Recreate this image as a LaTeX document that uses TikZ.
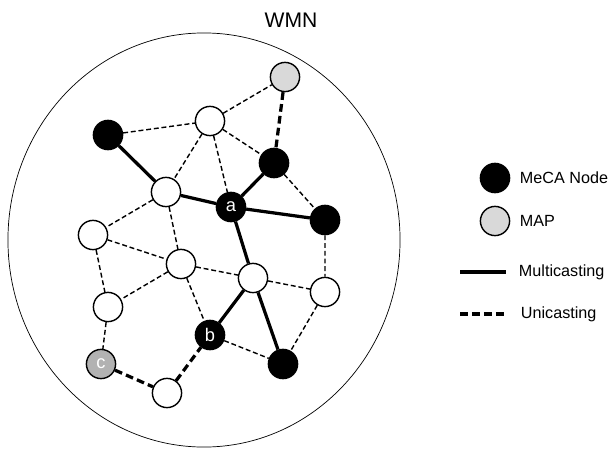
\documentclass[tikz,border=0pt]{standalone}
\usepackage{fontspec}
\setmainfont{Liberation Sans}

\begin{document}
\begin{tikzpicture}[x=0.025cm,y=-0.025cm,
    relay/.style={circle,draw,line width=1pt,fill=white,minimum size=0.73cm,
        inner sep=0pt,font={\fontsize{13}{15}\selectfont}},
    meca/.style={relay,fill=black,text=white},
    map/.style={relay,fill=gray!30},
    multi/.style={line width=2.3pt},
    uni/.style={line width=1pt,dash pattern=on 3.5pt off 2pt},
    unithick/.style={line width=2.3pt,dash pattern=on 5.5pt off 3pt},
    legtext/.style={anchor=west,font={\fontsize{11.5}{14}\selectfont}}]
\useasboundingbox (0,0) rectangle (611,448);

\node[font={\fontsize{15}{17}\selectfont}] (title) at (291,20) {WMN};
\draw[line width=0.5pt] (204,240) ellipse [x radius=4.9cm, y radius=5.175cm];

% mesh nodes
\node[map] (m1) at (285,77) {};
\node[relay] (u1) at (210,121) {};
\node[meca] (k1) at (108,135) {};
\node[meca] (k2) at (274,163) {};
\node[relay] (u2) at (166,192) {};
\node[meca] (a) at (231,207) {a};
\node[meca] (k3) at (325,220) {};
\node[relay] (u3) at (93,235) {};
\node[relay] (u4) at (181,264) {};
\node[relay] (u5) at (253,278) {};
\node[relay] (u6) at (325,292) {};
\node[relay] (u7) at (108,307) {};
\node[meca] (b) at (210,335) {b};
\node[meca] (k4) at (283,364) {};
\node[map,fill=gray!60,text=white] (c) at (101,364) {c};
\node[relay] (u8) at (167,393) {};

% multicast tree
\draw[multi] (k1)--(u2) (u2)--(a) (a)--(k2) (a)--(k3) (a)--(u5)
    (u5)--(b) (u5)--(k4);

% unicast links
\draw[uni] (k1)--(u1) (u1)--(m1) (u1)--(u2) (u1)--(a) (u1)--(k2)
    (k2)--(k3) (u2)--(u3) (u2)--(u4) (u3)--(u4) (u3)--(u7) (u4)--(u7)
    (u4)--(u5) (u4)--(b) (u5)--(u6) (k3)--(u6) (u6)--(k4) (b)--(k4)
    (u7)--(c);
\draw[unithick] (m1)--(k2) (c)--(u8) (u8)--(b);

% legend
\node[meca] (lmeca) at (495,178) {};
\node[legtext] (tmeca) at (515,178) {MeCA Node};
\node[map] (lmap) at (495,221) {};
\node[legtext] (tmap) at (515,221) {MAP};
\coordinate (ms) at (460,272);
\coordinate (me) at (506,272);
\draw[multi] (ms)--(me);
\node[legtext] (tmulti) at (514,272) {Multicasting};
\coordinate (us) at (460,314);
\coordinate (ue) at (506,314);
\draw[unithick] (us)--(ue);
\node[legtext] (tuni) at (516,314) {Unicasting};
\end{tikzpicture}
\end{document}
